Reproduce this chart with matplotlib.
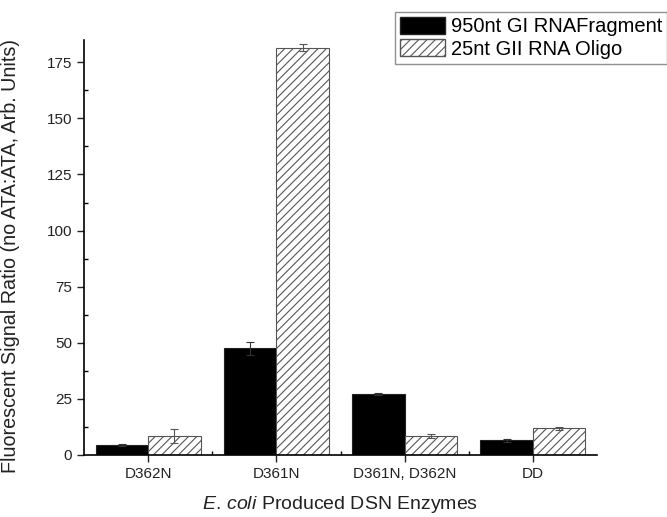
#!/usr/bin/env python3
# grouped bar chart of DSN enzyme signal ratios

import numpy as np
import matplotlib.pyplot as plt
from matplotlib.patches import Patch

plt.rcParams['font.family'] = ['Liberation Sans', 'DejaVu Sans']
plt.rcParams['mathtext.fontset'] = 'custom'
plt.rcParams['mathtext.rm'] = 'Liberation Sans'
plt.rcParams['mathtext.it'] = 'Liberation Sans:italic'
plt.rcParams['hatch.linewidth'] = 0.8

enzymes = ['D362N', 'D361N', 'D361N, D362N', 'DD']
fragment = [4.5, 47.5, 27.0, 6.5]
fragment_err = [0.4, 3.0, 0.5, 0.8]
oligo = [8.5, 181.5, 8.5, 11.8]
oligo_err = [3.0, 1.5, 0.8, 0.8]
series_names = ['950nt GI RNAFragment', '25nt GII RNA Oligo']

x = np.arange(1, len(enzymes) + 1)
w = 0.41

fig = plt.figure(figsize=(6.67, 5.17), dpi=100)
ax = fig.add_axes([0.126, 0.12, 0.769, 0.803])

ax.bar(x - w / 2, fragment, w, color='black', edgecolor='#222222', linewidth=0.8,
       yerr=fragment_err, error_kw=dict(ecolor='#333333', elinewidth=0.8, capsize=3, capthick=0.8))
ax.bar(x + w / 2, oligo, w, color='white', edgecolor='#555555', hatch='////', linewidth=0.8,
       yerr=oligo_err, error_kw=dict(ecolor='#555555', elinewidth=0.8, capsize=3, capthick=0.8))

ax.set_xlim(0.5, 4.5)
ax.set_ylim(0, 185)
ax.set_xticks(x)
ax.set_xticklabels(enzymes)
ax.set_xticks(x[:-1] + 0.5, minor=True)
ax.set_yticks(np.arange(0, 176, 25))
ax.set_yticks(np.arange(12.5, 176, 25), minor=True)
ax.tick_params(which='major', direction='out', length=5, width=1, labelsize=11, colors='#222222')
ax.tick_params(which='minor', direction='in', length=3, width=1)
ax.spines['top'].set_visible(False)
ax.spines['right'].set_visible(False)
for s in ['left', 'bottom']:
    ax.spines[s].set_linewidth(1.2)

ax.set_ylabel('Fluorescent Signal Ratio (no ATA:ATA, Arb. Units)', fontsize=14.2, color='#222222')
ax.yaxis.set_label_coords(-0.124, 0.48)
ax.set_xlabel(r'$\mathit{E.\,coli}$ Produced DSN Enzymes', fontsize=14, color='#222222')
ax.xaxis.set_label_coords(0.5, -0.094)

handles = [Patch(facecolor='black', edgecolor='#222222'),
           Patch(facecolor='white', edgecolor='#555555', hatch='////')]
leg = fig.legend(handles, series_names, loc='upper right', bbox_to_anchor=(1.0, 1 - 12 / 517),
                 borderaxespad=0, fontsize=14.5, fancybox=False, edgecolor='#777777',
                 handlelength=2.2, handleheight=0.9, borderpad=0.25, labelspacing=0.15,
                 handletextpad=0.3)
leg.get_frame().set_linewidth(1.0)

plt.savefig('out.png', dpi=100)
